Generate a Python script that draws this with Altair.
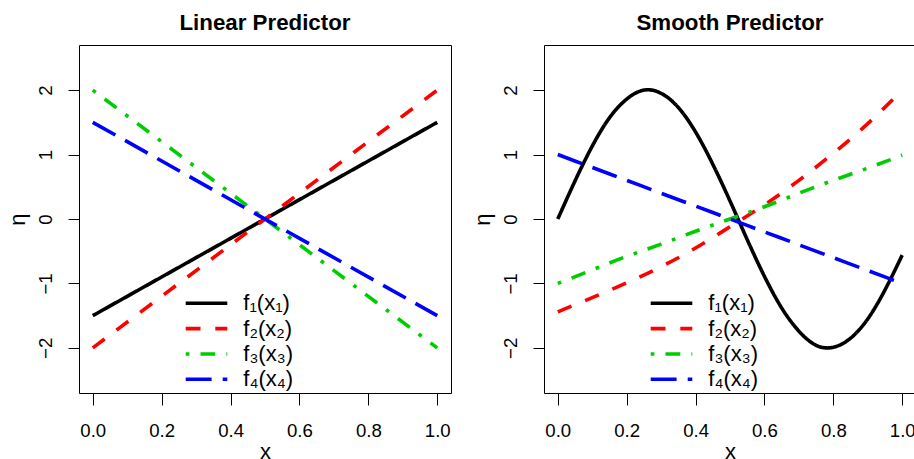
import altair as alt
import pandas as pd

FONT = "Liberation Sans"

# Series labels, colours and R-style line types (solid, dashed, dotdash, longdash)
series_names = ["f₁(x₁)", "f₂(x₂)", "f₃(x₃)", "f₄(x₄)"]
series_colors = ["#000000", "#FF0000", "#00CD00", "#0000FF"]
series_dashes = [[1, 0], [14.8, 14.8], [3.7, 11.1, 14.8, 11.1], [25.9, 11.1]]

# Linear predictor: each effect is a straight line over [0, 1]
lin_x = [0.0, 1.0]
lin_f1 = [-1.5, 1.5]
lin_f2 = [-2.0, 2.0]
lin_f3 = [2.0, -2.0]
lin_f4 = [1.5, -1.5]

# Smooth predictor
smooth_x1 = [0.0, 0.05, 0.10, 0.15, 0.20, 0.25, 0.30, 0.35, 0.40, 0.45, 0.50,
             0.55, 0.60, 0.65, 0.70, 0.75, 0.80, 0.85, 0.90, 0.95, 1.00]
smooth_f1 = [0.00, 0.59, 1.13, 1.57, 1.86, 2.00, 1.95, 1.73, 1.35, 0.85, 0.28,
             -0.32, -0.89, -1.38, -1.74, -1.96, -1.99, -1.85, -1.55, -1.10, -0.56]
smooth_x = [0.0, 0.1, 0.2, 0.3, 0.4, 0.5, 0.6, 0.7, 0.8, 0.9, 1.0]
smooth_f2 = [-1.44, -1.22, -0.99, -0.74, -0.45, -0.12, 0.22, 0.60, 1.02, 1.48, 2.00]
smooth_f3 = [-1.00, -0.79, -0.58, -0.39, -0.19, 0.00, 0.19, 0.40, 0.60, 0.79, 0.99]
smooth_f4 = [1.00, 0.80, 0.60, 0.40, 0.20, 0.00, -0.20, -0.40, -0.60, -0.80, -1.00]


def long_table(pairs):
    rows = []
    for name, xs, ys in pairs:
        for i, (xv, yv) in enumerate(zip(xs, ys)):
            rows.append({"series": name, "x": xv, "eta": yv, "i": i})
    return pd.DataFrame(rows)


lin_df = long_table([
    (series_names[0], lin_x, lin_f1),
    (series_names[1], lin_x, lin_f2),
    (series_names[2], lin_x, lin_f3),
    (series_names[3], lin_x, lin_f4),
])
smooth_df = long_table([
    (series_names[0], smooth_x1, smooth_f1),
    (series_names[1], smooth_x, smooth_f2),
    (series_names[2], smooth_x, smooth_f3),
    (series_names[3], smooth_x, smooth_f4),
])
legend_df = pd.DataFrame({"series": series_names})

PLOT_W, PLOT_H = 372, 348
LW = 3.6

color_scale = alt.Scale(domain=series_names, range=series_colors)
dash_scale = alt.Scale(domain=series_names, range=series_dashes)


def panel(df, title, interp):
    x_axis = alt.Axis(
        values=[0, 0.2, 0.4, 0.6, 0.8, 1.0], format=".1f", title="x",
        grid=False, domain=False, tickSize=12, tickColor="black", tickWidth=1,
        labelFont=FONT, labelFontSize=18.6, labelColor="black",
        labelBaseline="alphabetic", labelPadding=31.4,
        labelFlush=False, labelOverlap=False, labelBound=False,
        titleFont=FONT, titleFontSize=22, titleFontWeight="normal",
        titleColor="black", titleBaseline="alphabetic",
        titleX=PLOT_W / 2, titleY=65.5, titleAlign="center",
    )
    y_axis = alt.Axis(
        values=[-2, -1, 0, 1, 2], format="d", title="η",
        grid=False, domain=False, tickSize=11, tickColor="black", tickWidth=1,
        labelFont=FONT, labelFontSize=18.6, labelColor="black",
        labelAngle=270, labelAlign="center", labelBaseline="alphabetic",
        labelPadding=16.3, labelFlush=False, labelOverlap=False, labelBound=False,
        titleFont=FONT, titleFontSize=22, titleFontWeight="normal",
        titleColor="black", titleAngle=270, titleBaseline="alphabetic",
        titleAlign="center", titleX=-55, titleY=PLOT_H / 2,
    )
    lines = alt.Chart(df).mark_line(
        strokeWidth=LW, strokeCap="butt", interpolate=interp, clip=True
    ).encode(
        x=alt.X("x:Q", scale=alt.Scale(domain=[-0.04, 1.04], nice=False, zero=False), axis=x_axis),
        y=alt.Y("eta:Q", scale=alt.Scale(domain=[-2.7, 2.7], nice=False, zero=False), axis=y_axis),
        color=alt.Color("series:N", scale=color_scale, legend=None),
        strokeDash=alt.StrokeDash("series:N", scale=dash_scale, legend=None),
        order=alt.Order("i:Q"),
    )

    # In-plot key: one row per series, line sample followed by its label
    key_y = alt.Y(
        "series:N", axis=None,
        scale=alt.Scale(type="point", domain=series_names, range=[258.3, 334.3], padding=0),
    )
    key_lines = alt.Chart(legend_df).mark_rule(strokeWidth=LW, strokeCap="butt").encode(
        x=alt.value(106.7), x2=alt.value(148.3), y=key_y,
        color=alt.Color("series:N", scale=color_scale, legend=None),
        strokeDash=alt.StrokeDash("series:N", scale=dash_scale, legend=None),
    )
    key_text = alt.Chart(legend_df).mark_text(
        align="left", baseline="middle", font=FONT, fontSize=22, color="black"
    ).encode(x=alt.value(164.3), y=key_y, text="series:N")

    return alt.layer(lines, key_lines, key_text).resolve_scale(y="independent").properties(
        width=PLOT_W, height=PLOT_H,
        title=alt.TitleParams(
            title, font=FONT, fontSize=22.3, fontWeight="bold", color="black",
            anchor="middle", baseline="alphabetic", offset=11, dy=18,
        ),
    )


left = panel(lin_df, "Linear Predictor", "linear")
right = panel(smooth_df, "Smooth Predictor", "natural")

chart = alt.hconcat(left, right, spacing=93, bounds="flush").properties(
    autosize=alt.AutoSizeParams(type="none"),
    padding={"left": 79, "top": 45, "right": 835, "bottom": 414},
    background="white",
).configure_view(stroke="black", strokeWidth=1)

chart.save("out.html", embed_options={"renderer": "svg", "actions": False})
